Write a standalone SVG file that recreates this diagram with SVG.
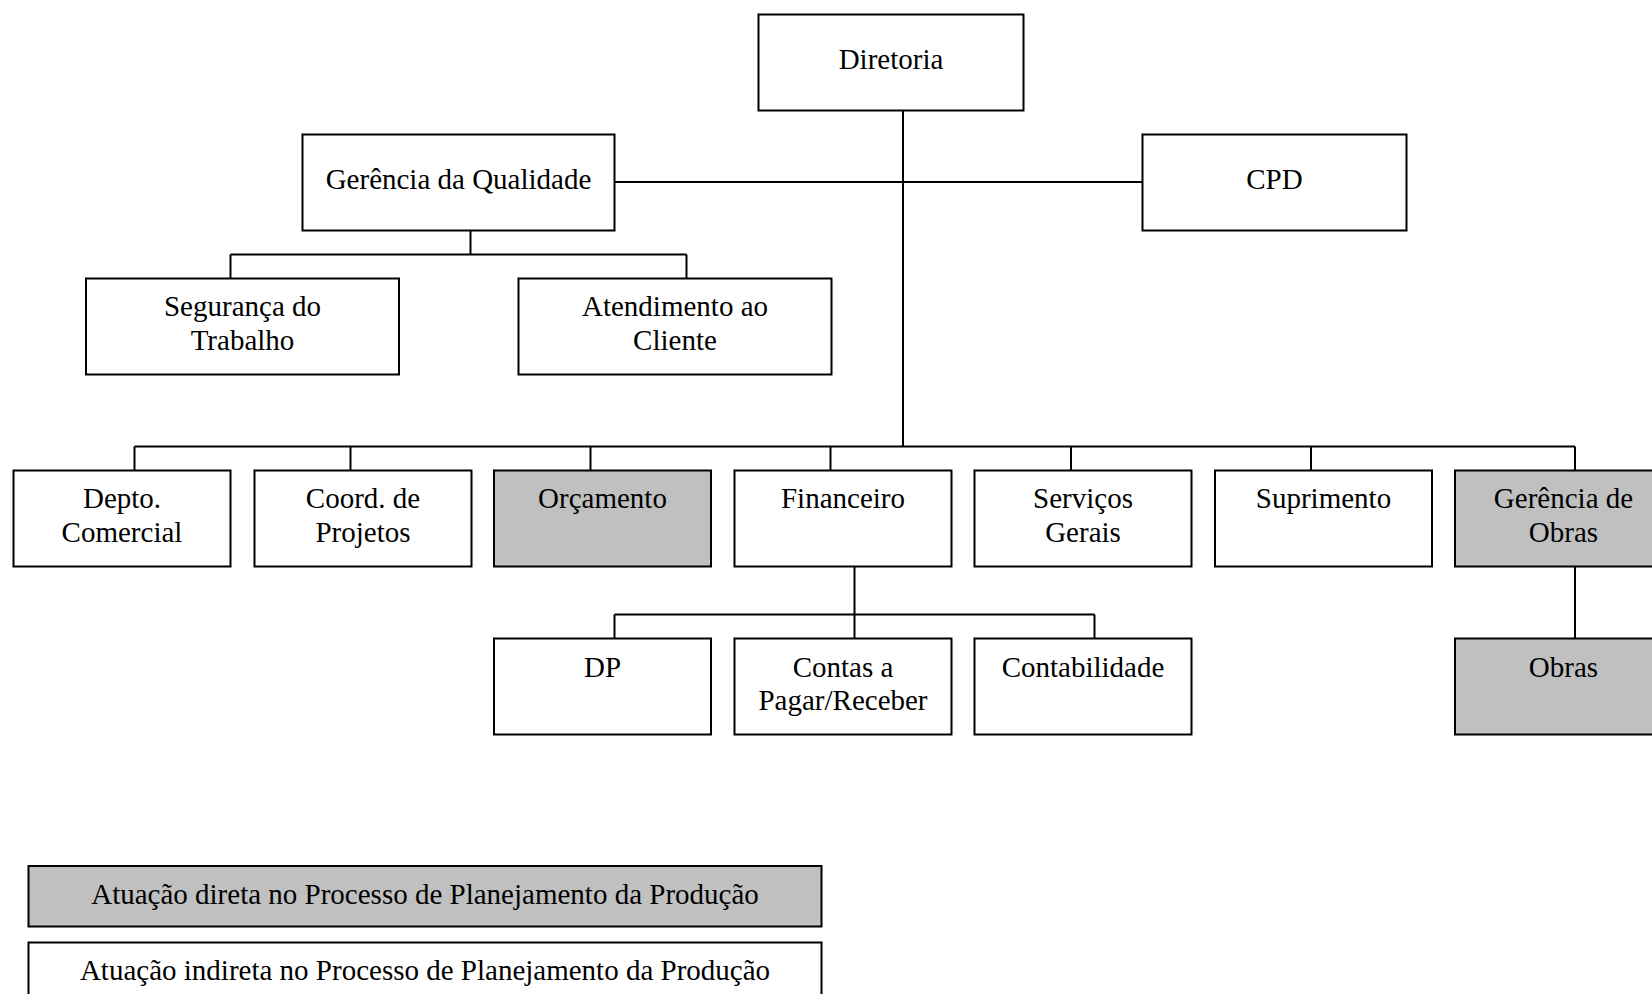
<svg xmlns="http://www.w3.org/2000/svg" width="1652" height="994" viewBox="0 0 1652 994">
<style>
.b{fill:#fff;stroke:#000;stroke-width:2}
.g{fill:#c0c0c0;stroke:#000;stroke-width:2}
.t{font-family:"Liberation Serif","Times New Roman",serif;font-size:29px;fill:#000;text-anchor:middle}
.c{fill:none;stroke:#000;stroke-width:2}
</style>
<rect width="1652" height="994" fill="#fff"/>
<g id="connectors">
<path class="c" d="M903 110.5V446.5 M614.5 182H1142.5 M470.5 230.5V254.5 M230.5 254.5H686.5 M230.5 254.5V278.5 M686.5 254.5V278.5 M134.5 446.5H1575 M134.5 446.5V470.5 M350.5 446.5V470.5 M590.5 446.5V470.5 M830.5 446.5V470.5 M1071 446.5V470.5 M1311 446.5V470.5 M1575 446.5V470.5 M854.5 566.5V638.5 M614.5 614.5H1094.5 M614.5 614.5V638.5 M1094.5 614.5V638.5 M1575 566.5V638.5"/>
</g>
<g id="diretoria"><rect class="b" x="758.5" y="14.5" width="265" height="96"/><text class="t" x="891" y="69">Diretoria</text></g>
<g id="gerencia-qualidade"><rect class="b" x="302.5" y="134.5" width="312" height="96"/><text class="t" x="458.5" y="188.5">Gerência da Qualidade</text></g>
<g id="cpd"><rect class="b" x="1142.5" y="134.5" width="264" height="96"/><text class="t" x="1274.5" y="188.5">CPD</text></g>
<g id="seguranca"><rect class="b" x="86" y="278.5" width="313" height="96"/><text class="t" x="242.5" y="316">Segurança do</text><text class="t" x="242.5" y="349.5">Trabalho</text></g>
<g id="atendimento"><rect class="b" x="518.5" y="278.5" width="313" height="96"/><text class="t" x="675" y="316">Atendimento ao</text><text class="t" x="675" y="349.5">Cliente</text></g>
<g id="depto-comercial"><rect class="b" x="13.5" y="470.5" width="217" height="96"/><text class="t" x="122" y="508">Depto.</text><text class="t" x="122" y="541.5">Comercial</text></g>
<g id="coord-projetos"><rect class="b" x="254.5" y="470.5" width="217" height="96"/><text class="t" x="363" y="508">Coord. de</text><text class="t" x="363" y="541.5">Projetos</text></g>
<g id="orcamento"><rect class="g" x="494" y="470.5" width="217" height="96"/><text class="t" x="602.5" y="508">Orçamento</text></g>
<g id="financeiro"><rect class="b" x="734.5" y="470.5" width="217" height="96"/><text class="t" x="843" y="508">Financeiro</text></g>
<g id="servicos-gerais"><rect class="b" x="974.5" y="470.5" width="217" height="96"/><text class="t" x="1083" y="508">Serviços</text><text class="t" x="1083" y="541.5">Gerais</text></g>
<g id="suprimento"><rect class="b" x="1215" y="470.5" width="217" height="96"/><text class="t" x="1323.5" y="508">Suprimento</text></g>
<g id="gerencia-obras"><rect class="g" x="1455" y="470.5" width="217" height="96"/><text class="t" x="1563.5" y="508">Gerência de</text><text class="t" x="1563.5" y="541.5">Obras</text></g>
<g id="dp"><rect class="b" x="494" y="638.5" width="217" height="96"/><text class="t" x="602.5" y="676.5">DP</text></g>
<g id="contas"><rect class="b" x="734.5" y="638.5" width="217" height="96"/><text class="t" x="843" y="676.5">Contas a</text><text class="t" x="843" y="709.5">Pagar/Receber</text></g>
<g id="contabilidade"><rect class="b" x="974.5" y="638.5" width="217" height="96"/><text class="t" x="1083" y="676.5">Contabilidade</text></g>
<g id="obras"><rect class="g" x="1455" y="638.5" width="217" height="96"/><text class="t" x="1563.5" y="676.5">Obras</text></g>
<g id="legend-direta"><rect class="g" x="28.5" y="866" width="793" height="60.5"/><text class="t" x="425" y="904">Atuação direta no Processo de Planejamento da Produção</text></g>
<g id="legend-indireta"><rect class="b" x="28.5" y="942.5" width="793" height="60"/><text class="t" x="425" y="980">Atuação indireta no Processo de Planejamento da Produção</text></g>
</svg>
